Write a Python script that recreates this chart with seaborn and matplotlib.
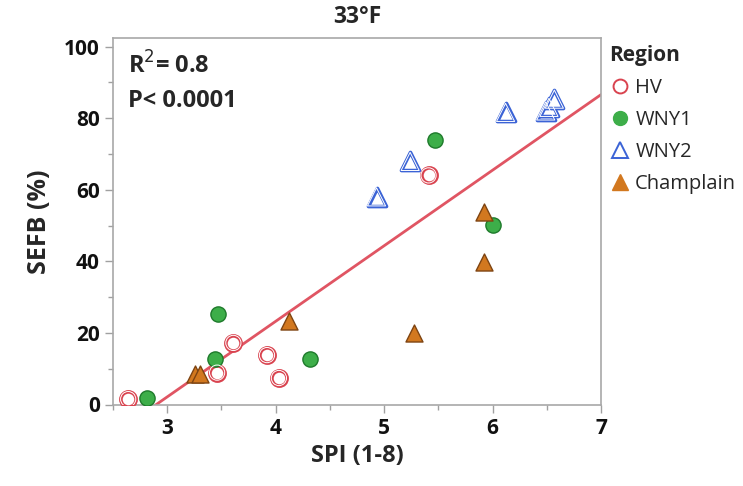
import numpy as np
import pandas as pd
import matplotlib
matplotlib.use("Agg")
import matplotlib.pyplot as plt
import seaborn as sns
from matplotlib.ticker import MultipleLocator
from matplotlib.lines import Line2D

regions = ["HV", "WNY1", "WNY2", "Champlain"]

hv_x = [2.64, 3.46, 3.61, 3.92, 4.03, 5.41]
hv_y = [1.5, 8.9, 17.2, 13.8, 7.4, 64.0]
wny1_x = [2.815, 3.44, 3.47, 4.32, 5.47, 6.00]
wny1_y = [1.9, 12.6, 25.3, 12.6, 74.0, 50.1]
wny2_x = [4.93, 5.24, 6.12, 6.49, 6.52, 6.57]
wny2_y = [58.0, 67.9, 81.6, 82.0, 83.0, 85.3]
champ_x = [3.26, 3.30, 4.12, 5.28, 5.92, 5.92]
champ_y = [8.6, 8.6, 23.2, 19.9, 53.7, 39.7]

xs = [hv_x, wny1_x, wny2_x, champ_x]
ys = [hv_y, wny1_y, wny2_y, champ_y]
df = pd.concat([pd.DataFrame({"SPI": x, "SEFB": y, "Region": r})
                for r, x, y in zip(regions, xs, ys)], ignore_index=True)

sns.set_theme(style="white")
plt.rcParams['font.family'] = ['Open Sans', 'DejaVu Sans']

fig = plt.figure(figsize=(7.43, 4.86), dpi=100)
ax = fig.add_axes([113/743, 1-404.5/486, (601-113)/743, (404.5-38.3)/486])

xlim = (2.5, 7.0)
ylim = (0, 102.3)

# regression line fitted on data
slope, intercept = np.polyfit(df["SPI"], df["SEFB"], 1)
lx = np.linspace(xlim[0], xlim[1], 50)
ax.plot(lx, slope * lx + intercept, color="#E05563", lw=2, zorder=2)

styles = {
    "HV": dict(marker="o", fc="none", ec="#D9434F", s=120, double=True),
    "WNY1": dict(marker="o", fc="#3DAE49", ec="#1E7A2B", s=120, double=False),
    "WNY2": dict(marker="^", fc="none", ec="#3B63D6", s=170, double=True),
    "Champlain": dict(marker="^", fc="#D2781F", ec="#7E4412", s=150, double=False),
}
for r in regions:
    st = styles[r]
    sub = df[df["Region"] == r]
    if st["double"]:
        sns.scatterplot(data=sub, x="SPI", y="SEFB", marker=st["marker"], s=st["s"],
                        facecolor="white", edgecolor=st["ec"], linewidth=2.6, ax=ax, zorder=3)
        sns.scatterplot(data=sub, x="SPI", y="SEFB", marker=st["marker"], s=st["s"],
                        facecolor="none", edgecolor="white", linewidth=0.7, ax=ax, zorder=4)
    else:
        sns.scatterplot(data=sub, x="SPI", y="SEFB", marker=st["marker"], s=st["s"],
                        facecolor=st["fc"], edgecolor=st["ec"], linewidth=1.0, ax=ax, zorder=3)

ax.set_xlim(*xlim)
ax.set_ylim(*ylim)
ax.xaxis.set_major_locator(MultipleLocator(1))
ax.xaxis.set_minor_locator(MultipleLocator(0.5))
ax.yaxis.set_major_locator(MultipleLocator(20))
ax.yaxis.set_minor_locator(MultipleLocator(10))
ax.tick_params(axis="both", which="major", length=6, width=1, color="#A0A0A0",
               labelsize=15, direction="out", bottom=True, left=True, labelcolor="#111111")
ax.tick_params(axis="both", which="minor", length=3.5, width=1, color="#A0A0A0",
               direction="out", bottom=True, left=True)
for lab in ax.get_xticklabels() + ax.get_yticklabels():
    lab.set_fontweight("bold")
for sp in ax.spines.values():
    sp.set_color("#A8A8A8")
    sp.set_linewidth(1.2)

ax.set_xlabel("SPI (1-8)", fontsize=17, fontweight="bold", labelpad=4)
ax.set_ylabel("SEFB (%)", fontsize=18, fontweight="bold", labelpad=9)
ax.set_title("33°F", fontsize=16.5, fontweight="bold", pad=11)

ax.text(0.03, 0.925, "R$^{2}$= 0.8", transform=ax.transAxes, fontsize=17,
        fontweight="bold", va="center", ha="left")
ax.text(0.03, 0.83, "P< 0.0001", transform=ax.transAxes, fontsize=17,
        fontweight="bold", va="center", ha="left")

handles = [
    Line2D([], [], ls="none", marker="o", markerfacecolor="none", markeredgecolor="#D9434F", markersize=10, markeredgewidth=1.4),
    Line2D([], [], ls="none", marker="o", markerfacecolor="#3DAE49", markeredgecolor="#3DAE49", markersize=10),
    Line2D([], [], ls="none", marker="^", markerfacecolor="none", markeredgecolor="#3B63D6", markersize=11, markeredgewidth=1.4),
    Line2D([], [], ls="none", marker="^", markerfacecolor="#D2781F", markeredgecolor="#D2781F", markersize=11),
]
leg = ax.legend(handles, regions, title="Region", loc="upper left",
                bbox_to_anchor=(1.0, 1.005), frameon=False, fontsize=14.5,
                title_fontproperties={"weight": "bold", "size": 15},
                handletextpad=0.2, borderaxespad=0.2, labelspacing=0.6,
                handlelength=1.1, borderpad=0.2)
leg._legend_box.align = "left"

fig.savefig("out.png", dpi=100)
